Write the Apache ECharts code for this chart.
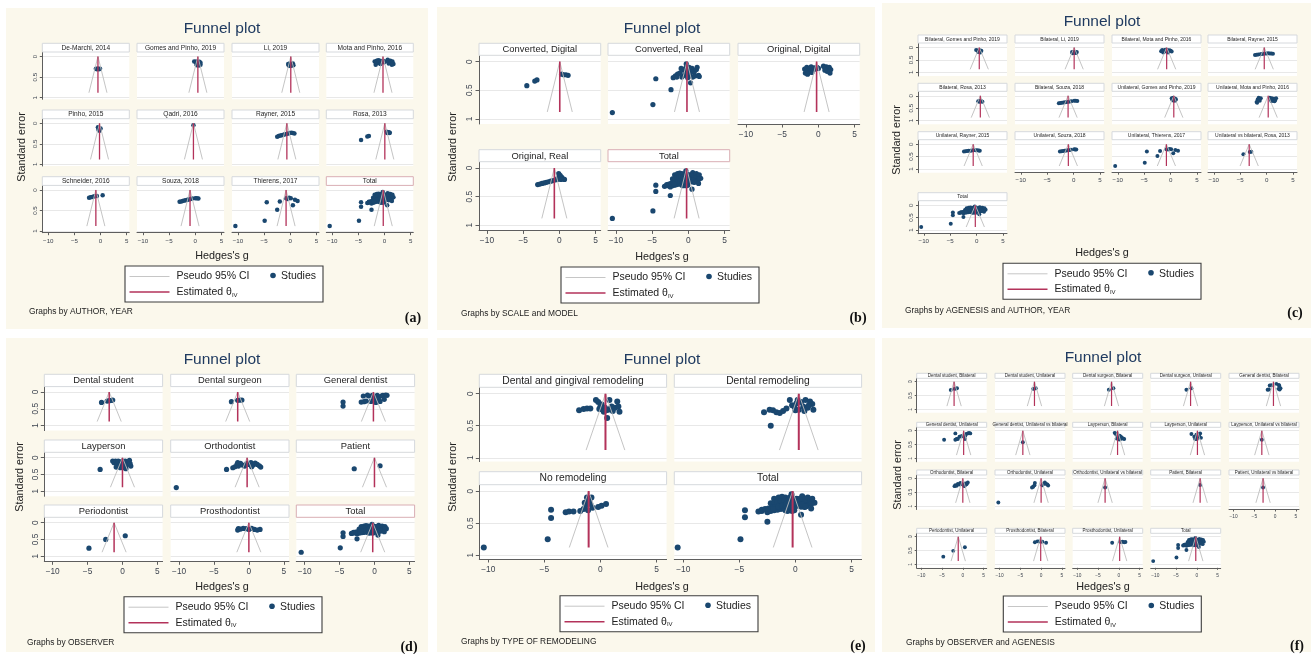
<!DOCTYPE html>
<html>
<head>
<meta charset="utf-8">
<script src="https://cdn.jsdelivr.net/npm/echarts@6/dist/echarts.min.js"></script>
<style>
  html, body { margin: 0; padding: 0; background: #ffffff; }
  #chart { width: 1311px; height: 654px; }
</style>
</head>
<body>
<div id="chart"></div>
<script>
// ---------- shared axis values ----------
const X_TICKS = [-10, -5, 0, 5];
const Y_TICKS = [0, 0.5, 1];
const SE_MAX = 0.88;          // largest standard error: bottom of every funnel
const Z_975 = 1.96;           // pseudo 95% CI half-width factor
const TOTAL_THETA = -0.25;

// ---------- studies by author (Hedges's g, standard error) ----------
const deMarchi2014 = [[-0.9,0.30],[-0.7,0.31],[-0.5,0.29],[-0.3,0.31],[-0.1,0.30]];
const gomesPinho2019 = [[-0.2,0.12],[0.1,0.13],[0.4,0.12],[0.8,0.13],[1.0,0.15],[0.2,0.17],[0.5,0.18],[0.8,0.19],[0.3,0.21],[0.7,0.22],[1.0,0.20]];
const li2019 = [[-0.4,0.18],[-0.1,0.17],[0.2,0.18],[0.5,0.17],[-0.3,0.22],[0.0,0.23],[0.3,0.22],[0.6,0.21]];
const motaPinho2016 = [[-1.9,0.12],[-1.7,0.20],[-1.5,0.10],[-1.3,0.16],[-1.1,0.13],[-0.9,0.10],[-0.7,0.15],[-0.5,0.12],[-0.3,0.10],[-0.1,0.14],[0.1,0.12],[0.6,0.08],[0.9,0.12],[1.1,0.10],[1.3,0.15],[1.5,0.12],[1.7,0.18],[1.4,0.20],[0.8,0.17],[-1.6,0.15],[-0.8,0.18],[-1.2,0.09]];
const pinho2015 = [[-0.5,0.10],[-0.3,0.12],[-0.1,0.14],[-0.4,0.16],[-0.2,0.18],[0.0,0.13]];
const qadri2016 = [[-0.35,0.05]];
const rayner2015 = [[-2.5,0.33],[-2.2,0.31],[-1.9,0.30],[-1.6,0.29],[-1.3,0.28],[-1.0,0.27],[-0.7,0.26],[-0.4,0.25],[-0.1,0.24],[0.2,0.23],[0.5,0.24],[0.8,0.25]];
const rosa2013 = [[-4.5,0.41],[-3.3,0.32],[-3.0,0.31],[0.4,0.21],[0.6,0.22],[0.8,0.22],[1.0,0.23],[0.5,0.24],[0.9,0.24]];
const schneider2016 = [[-2.2,0.19],[-1.9,0.18],[-1.6,0.17],[-1.3,0.16],[-1.0,0.15],[-0.7,0.15],[0.4,0.13]];
const souza2018 = [[-3.0,0.29],[-2.7,0.28],[-2.4,0.27],[-2.1,0.26],[-1.8,0.25],[-1.5,0.24],[-1.2,0.23],[-0.9,0.22],[-0.6,0.21],[0.0,0.20],[0.3,0.20],[0.6,0.21]];
const thierens2017 = [[-10.5,0.88],[-4.9,0.75],[-4.5,0.30],[-2.5,0.48],[-2.0,0.28],[-0.8,0.20],[-0.5,0.22],[-0.2,0.19],[0.1,0.20],[0.5,0.37],[0.9,0.24],[1.4,0.27]];

const authorLabels = ['De-Marchi, 2014','Gomes and Pinho, 2019','Li, 2019','Mota and Pinho, 2016','Pinho, 2015','Qadri, 2016','Rayner, 2015','Rosa, 2013','Schneider, 2016','Souza, 2018','Thierens, 2017'];
const authorThetas = [-0.5, 0.5, 0.1, -0.3, -0.2, -0.35, -0.65, 0.05, -0.9, -1.0, -0.8];
const authorGroups = [deMarchi2014, gomesPinho2019, li2019, motaPinho2016, pinho2015, qadri2016, rayner2015, rosa2013, schneider2016, souza2018, thierens2017];

// every study, pooled
const totalPoints = [].concat(...authorGroups);

// ---------- by scale and model ----------
const convertedDigital = [[-4.5,0.42],[-3.4,0.34],[-3.1,0.32],[0.3,0.22],[0.6,0.23],[0.9,0.23],[1.2,0.24]];
const convertedReal = [[-10.5,0.89],[-4.9,0.75],[-4.5,0.30],[-2.4,0.49],[-2.1,0.28],[-1.8,0.25],[-1.5,0.22],[-1.2,0.20],[-0.9,0.27],[-0.6,0.24],[-0.3,0.04],[-0.3,0.20],[0.0,0.15],[0.2,0.22],[0.5,0.12],[0.8,0.18],[1.1,0.14],[1.4,0.24],[0.3,0.37],[-0.7,0.15],[-0.1,0.28],[0.6,0.27],[0.9,0.25],[-1.0,0.12],[0.1,0.10],[1.5,0.26],[-0.4,0.12],[-1.6,0.27],[1.2,0.10],[0.4,0.18]];
const originalDigital = [[-1.9,0.13],[-1.8,0.20],[-1.6,0.10],[-1.4,0.16],[-1.2,0.12],[-1.0,0.09],[-0.8,0.14],[-0.6,0.11],[-0.4,0.13],[-0.2,0.10],[0.0,0.12],[-1.5,0.22],[-0.9,0.19],[0.7,0.08],[0.9,0.11],[1.1,0.09],[1.3,0.12],[1.5,0.10],[1.7,0.14],[1.6,0.20],[1.2,0.17],[0.9,0.15]];
const originalReal = [[-3.0,0.29],[-2.7,0.28],[-2.4,0.27],[-2.1,0.26],[-1.8,0.25],[-1.5,0.24],[-1.2,0.23],[-0.9,0.22],[-0.6,0.21],[-0.3,0.20],[-0.1,0.10],[0.1,0.13],[0.3,0.16],[0.5,0.19],[0.7,0.20],[-0.2,0.17],[0.2,0.20]];
const scaleModelLabels = ['Converted, Digital','Converted, Real','Original, Digital','Original, Real'];
const scaleModelThetas = [0.05, -0.2, -0.25, -0.7];
const scaleModelGroups = [convertedDigital, convertedReal, originalDigital, originalReal];

// ---------- by agenesis and author ----------
const bilGomesPinho2019 = [[-0.1,0.10],[0.2,0.12],[0.6,0.11],[0.9,0.13],[0.3,0.18],[0.7,0.20],[0.5,0.15]];
const bilLi2019 = [[-0.3,0.18],[0.0,0.17],[0.3,0.19],[0.6,0.18],[-0.2,0.23],[0.2,0.22],[0.5,0.22]];
const bilMotaPinho2016 = [[-1.8,0.15],[-1.6,0.10],[-1.4,0.20],[-1.2,0.12],[-1.0,0.09],[-0.8,0.16],[-0.6,0.10],[-0.4,0.14],[-0.2,0.11],[0.0,0.13],[0.2,0.16],[-1.3,0.17],[-0.5,0.20]];
const bilRayner2015 = [[-2.2,0.30],[-1.9,0.29],[-1.6,0.28],[-1.2,0.27],[-0.9,0.26],[-0.6,0.25],[-0.3,0.24],[0.0,0.24],[0.3,0.23],[0.6,0.24],[0.9,0.24],[1.2,0.25]];
const bilRosa2013 = [[0.3,0.22],[0.5,0.24],[0.7,0.23],[0.9,0.22],[1.1,0.24],[0.6,0.20]];
const bilSouza2018 = [[-2.8,0.30],[-2.5,0.29],[-2.2,0.28],[-1.9,0.27],[-1.6,0.26],[-1.3,0.25],[-1.0,0.24],[-0.7,0.23],[-0.4,0.22],[0.1,0.20],[0.4,0.20],[0.7,0.21]];
const uniGomesPinho2019 = [[0.2,0.10],[0.5,0.08],[0.8,0.11],[1.0,0.14],[0.3,0.16],[0.6,0.20],[0.9,0.19]];
const uniMotaPinho2016 = [[-1.9,0.25],[-1.7,0.15],[-1.5,0.08],[-1.3,0.20],[-1.1,0.10],[-1.8,0.28],[0.6,0.08],[0.8,0.15],[1.0,0.10],[1.2,0.20],[1.4,0.12],[1.6,0.18],[1.8,0.10],[1.5,0.22],[0.9,0.21]];
const uniRayner2015 = [[-2.4,0.30],[-2.1,0.29],[-1.8,0.28],[-1.5,0.27],[-1.2,0.27],[-0.9,0.26],[-0.6,0.25],[-0.2,0.25],[0.1,0.25],[0.4,0.26],[0.6,0.27]];
const uniSouza2018 = [[-2.6,0.30],[-2.3,0.29],[-2.0,0.28],[-1.7,0.27],[-1.4,0.26],[-1.1,0.25],[-0.8,0.24],[-0.5,0.23],[0.1,0.20],[0.3,0.21],[0.5,0.21]];
const uniVsBilRosa2013 = [[-4.4,0.41],[-3.2,0.32],[-2.9,0.31]];
const agenesisAuthorLabels = ['Bilateral, Gomes and Pinho, 2019','Bilateral, Li, 2019','Bilateral, Mota and Pinho, 2016','Bilateral, Rayner, 2015','Bilateral, Rosa, 2013','Bilateral, Souza, 2018','Unilateral, Gomes and Pinho, 2019','Unilateral, Mota and Pinho, 2016','Unilateral, Rayner, 2015','Unilateral, Souza, 2018','Unilateral, Thierens, 2017','Unilateral vs bilateral, Rosa, 2013'];
const agenesisAuthorThetas = [0.5, 0.1, -0.75, -0.45, 0.7, -1.05, 0.6, 0.3, -0.65, -1.0, -0.8, -3.3];
const agenesisAuthorGroups = [bilGomesPinho2019, bilLi2019, bilMotaPinho2016, bilRayner2015, bilRosa2013, bilSouza2018, uniGomesPinho2019, uniMotaPinho2016, uniRayner2015, uniSouza2018, thierens2017, uniVsBilRosa2013];

// ---------- by observer ----------
const dentalStudent = [[-3.0,0.31],[-2.2,0.27],[-1.9,0.26],[-1.6,0.25],[-1.4,0.24]];
const dentalSurgeon = [[-2.5,0.29],[-1.6,0.25],[-1.3,0.24],[-1.0,0.24]];
const generalDentist = [[-4.5,0.30],[-4.5,0.42],[-1.9,0.30],[-1.5,0.29],[-1.2,0.27],[-0.8,0.12],[-0.5,0.28],[-0.3,0.10],[0.0,0.13],[0.2,0.31],[0.4,0.10],[0.6,0.15],[0.8,0.28],[1.0,0.12],[1.2,0.10],[1.4,0.22],[1.6,0.09],[-1.0,0.09],[-0.1,0.20],[0.5,0.22],[1.8,0.10],[-1.6,0.12]];
const layperson = [[-3.2,0.35],[-1.4,0.10],[-1.2,0.15],[-1.0,0.10],[-0.8,0.20],[-0.6,0.10],[-0.4,0.25],[-0.2,0.15],[0.0,0.10],[0.2,0.30],[0.4,0.10],[0.6,0.22],[0.8,0.15],[1.0,0.08],[1.2,0.25],[-0.3,0.30],[0.3,0.20],[-0.9,0.28],[1.1,0.18],[0.5,0.33]];
const orthodontist = [[-10.4,0.89],[-3.2,0.35],[-2.3,0.30],[-2.0,0.27],[-1.7,0.20],[-1.5,0.25],[-1.2,0.17],[-0.9,0.22],[-0.6,0.25],[-0.3,0.17],[0.0,0.20],[0.3,0.15],[0.6,0.22],[0.9,0.16],[1.2,0.20],[1.5,0.24],[1.7,0.28],[-1.6,0.15],[0.4,0.27]];
const patient = [[-2.9,0.33],[0.8,0.24]];
const periodontist = [[-4.8,0.76],[-2.4,0.50],[0.4,0.39]];
const prosthodontist = [[-1.6,0.22],[-1.2,0.19],[-0.8,0.17],[-0.4,0.18],[0.0,0.20],[0.4,0.17],[0.8,0.20],[1.2,0.22],[1.6,0.20],[-1.5,0.18]];
const observerLabels = ['Dental student','Dental surgeon','General dentist','Layperson','Orthodontist','Patient','Periodontist','Prosthodontist'];
const observerThetas = [-1.9, -1.6, -0.15, 0.0, -0.25, 0.0, -1.2, 0.0];
const observerGroups = [dentalStudent, dentalSurgeon, generalDentist, layperson, orthodontist, patient, periodontist, prosthodontist];

// ---------- by type of remodeling ----------
const dentalGingivalRemodeling = [[-1.9,0.26],[-1.5,0.24],[-1.2,0.23],[-0.9,0.23],[-0.4,0.10],[-0.2,0.13],[0.0,0.20],[0.1,0.17],[0.2,0.25],[0.4,0.22],[0.5,0.26],[0.6,0.38],[0.7,0.25],[0.8,0.10],[0.9,0.24],[1.1,0.27],[1.3,0.22],[1.5,0.12],[1.6,0.20],[1.7,0.28],[-0.1,0.24],[0.3,0.28],[1.0,0.20]];
const dentalRemodeling = [[-2.8,0.29],[-2.2,0.50],[-2.3,0.25],[-2.0,0.26],[-1.7,0.29],[-1.4,0.30],[-1.1,0.27],[-0.8,0.23],[-0.5,0.10],[-0.3,0.18],[-0.1,0.20],[0.1,0.15],[0.3,0.25],[0.5,0.13],[0.7,0.20],[0.9,0.10],[1.1,0.22],[1.3,0.12],[1.5,0.16],[1.6,0.25],[0.2,0.10],[0.8,0.27],[1.2,0.18],[0.0,0.26]];
const noRemodeling = [[-10.4,0.88],[-4.7,0.75],[-4.4,0.29],[-4.4,0.42],[-3.1,0.33],[-2.8,0.32],[-2.4,0.32],[-1.8,0.31],[-1.5,0.28],[-1.3,0.22],[-1.2,0.10],[-1.0,0.15],[-0.8,0.10],[-0.7,0.26],[-1.1,0.30],[-0.9,0.20],[-0.2,0.25],[0.1,0.23],[0.5,0.20],[-1.4,0.18]];
const remodelingLabels = ['Dental and gingival remodeling','Dental remodeling','No remodeling'];
const remodelingThetas = [0.45, 0.3, -1.05];
const remodelingGroups = [dentalGingivalRemodeling, dentalRemodeling, noRemodeling];

// ---------- by observer and agenesis ----------
const dsBil = [[-2.9,0.30],[-2.0,0.26],[-1.7,0.25],[-1.4,0.24]];
const dsUni = [[-1.9,0.26],[-1.6,0.25],[-1.3,0.24]];
const dsurgBil = [[-2.4,0.29],[-1.3,0.24]];
const dsurgUni = [[-2.5,0.29],[-1.3,0.24]];
const gdBil = [[-1.8,0.29],[-1.5,0.28],[-1.3,0.14],[-0.9,0.13],[0.3,0.08],[0.9,0.12],[1.0,0.15],[0.8,0.26],[1.1,0.28],[1.3,0.24]];
const gdUni = [[-4.5,0.33],[-1.8,0.10],[-1.8,0.33],[-1.5,0.30],[-1.2,0.30],[-0.8,0.22],[-0.4,0.20],[0.0,0.18],[0.3,0.22],[0.5,0.30],[0.8,0.12],[1.2,0.10],[1.5,0.08],[1.8,0.10],[0.6,0.18]];
const gdUniVsBil = [[-4.4,0.42]];
const layBil = [[-1.0,0.08],[-0.8,0.10],[-0.6,0.15],[-0.4,0.12],[-0.2,0.20],[0.0,0.25],[0.2,0.18],[0.4,0.30],[0.7,0.25],[1.0,0.28],[1.3,0.30],[-0.5,0.28],[0.5,0.22],[0.1,0.32]];
const layUni = [[-1.3,0.12],[-0.6,0.22],[-0.4,0.30],[-0.2,0.25],[0.0,0.30],[0.2,0.22],[0.4,0.13],[0.6,0.20],[0.8,0.10],[1.0,0.26],[-0.1,0.15]];
const layUniVsBil = [[-3.2,0.33]];
const orthoBil = [[-2.0,0.28],[-1.8,0.25],[-1.5,0.27],[-1.2,0.20],[-0.9,0.22],[-0.6,0.17],[-0.3,0.20],[0.0,0.22],[0.3,0.25],[0.6,0.18],[0.9,0.21],[1.2,0.15],[0.4,0.28]];
const orthoUni = [[-10.3,0.87],[-2.2,0.33],[-1.9,0.30],[-1.6,0.25],[-1.5,0.17],[0.5,0.20],[0.9,0.15],[1.2,0.20],[1.5,0.22],[1.7,0.26],[0.3,0.25]];
const orthoUniVsBil = [[-3.3,0.33]];
const patientBil = [[0.8,0.24]];
const patientUniVsBil = [[-2.9,0.33]];
const perioUni = [[-4.7,0.72],[-2.3,0.51],[0.5,0.38]];
const prosthoBil = [[-1.5,0.20],[-0.9,0.17],[-0.5,0.17],[-0.1,0.18],[0.3,0.18],[1.2,0.22]];
const prosthoUni = [[-1.6,0.22],[0.3,0.18],[0.6,0.19],[0.9,0.18],[1.3,0.20],[1.6,0.19]];
const observerAgenesisLabels = ['Dental student, Bilateral','Dental student, Unilateral','Dental surgeon, Bilateral','Dental surgeon, Unilateral','General dentist, Bilateral','General dentist, Unilateral','General dentist, Unilateral vs bilateral','Layperson, Bilateral','Layperson, Unilateral','Layperson, Unilateral vs bilateral','Orthodontist, Bilateral','Orthodontist, Unilateral','Orthodontist, Unilateral vs bilateral','Patient, Bilateral','Patient, Unilateral vs bilateral','Periodontist, Unilateral','Prosthodontist, Bilateral','Prosthodontist, Unilateral'];
const observerAgenesisThetas = [-2.1, -1.6, -1.75, -1.5, -0.4, 0.2, -4.4, -0.3, 0.15, -3.2, 0.0, 0.0, -3.3, 0.8, -2.9, -1.1, -0.1, 0.2];
const observerAgenesisGroups = [dsBil, dsUni, dsurgBil, dsurgUni, gdBil, gdUni, gdUniVsBil, layBil, layUni, layUniVsBil, orthoBil, orthoUni, orthoUniVsBil, patientBil, patientUniVsBil, perioUni, prosthoBil, prosthoUni];

// ---------- styling ----------
const FONT = '"Liberation Sans", Arial, sans-serif';
const CREAM = '#fbf8ec';
const NAVY = '#1a476f';
const RED = '#b3325a';
const FUNNEL = '#bdbdbd';
const GRIDLINE = '#e8e8e8';
const AXIS = '#5e5e5e';
const TITLE = '#1f3a60';
const TICKTXT = '#3d4450';

// ---------- panel geometry ----------
const panels = [
  { tag: '(a)', note: 'Graphs by AUTHOR, YEAR',
    labels: authorLabels, thetas: authorThetas, groups: authorGroups,
    bg: [6, 8, 422, 321], title: [222, 29], ncols: 4,
    cols: [42.3, 137, 232, 326.3], colW: 87,
    rowTops: [43.3, 110, 176.7], headH: 8.7, plotH: 47.3,
    yRange: [-0.11, 1.04], xRange: [-11.15, 5.5],
    headFont: 6.6, tickFont: 6.2, tickLen: 2.5, dot: 4.5, redW: 1.3,
    yTitle: [22, 147], xTitle: [222, 256], legend: [125, 266], noteXY: [29, 312], tagXY: [413, 318], totalPink: true },
  { tag: '(b)', note: 'Graphs by SCALE and MODEL',
    labels: scaleModelLabels, thetas: scaleModelThetas, groups: scaleModelGroups,
    bg: [437, 7, 438, 323], title: [662, 29], ncols: 3,
    cols: [479, 608, 738], colW: 121.7,
    rowTops: [43.3, 149.7], headH: 12, plotH: 68.7,
    yRange: [-0.11, 1.09], xRange: [-11.1, 5.7],
    headFont: 9.4, tickFont: 8.4, tickLen: 3.5, dot: 5.2, redW: 1.6,
    yTitle: [453, 147], xTitle: [662, 257], legend: [561, 267], noteXY: [461, 314], tagXY: [858, 318], totalPink: true },
  { tag: '(c)', note: 'Graphs by AGENESIS and AUTHOR, YEAR',
    labels: agenesisAuthorLabels, thetas: agenesisAuthorThetas, groups: agenesisAuthorGroups,
    bg: [882, 3, 429, 325], title: [1102, 22], ncols: 4,
    cols: [918, 1015, 1112, 1208], colW: 89,
    rowTops: [35, 83.3, 131.7, 192.7], headH: 8, plotH: 33,
    yRange: [-0.18, 1.15], xRange: [-11.1, 5.75],
    headFont: 5, tickFont: 6.2, tickLen: 2, dot: 4, redW: 1.2,
    yTitle: [897, 140], xTitle: [1102, 253], legend: [1003, 263.3], noteXY: [905, 311], tagXY: [1295, 313], totalPink: false },
  { tag: '(d)', note: 'Graphs by OBSERVER',
    labels: observerLabels, thetas: observerThetas, groups: observerGroups,
    bg: [6, 338, 422, 314], title: [222, 360], ncols: 3,
    cols: [44.3, 170.7, 296.3], colW: 118.3,
    rowTops: [374.3, 440, 505], headH: 12.3, plotH: 44,
    yRange: [-0.16, 1.15], xRange: [-11.2, 5.75],
    headFont: 9.4, tickFont: 8.3, tickLen: 3.5, dot: 5.2, redW: 1.5,
    yTitle: [20, 477], xTitle: [222, 587], legend: [124, 596.7], noteXY: [27, 643], tagXY: [409, 647], totalPink: true },
  { tag: '(e)', note: 'Graphs by TYPE OF REMODELING',
    labels: remodelingLabels, thetas: remodelingThetas, groups: remodelingGroups,
    bg: [437, 338, 438, 314], title: [662, 360], ncols: 2,
    cols: [479.3, 674.3], colW: 187.3,
    rowTops: [374.3, 471.7], headH: 13, plotH: 74.3,
    yRange: [-0.1, 1.06], xRange: [-10.8, 5.9],
    headFont: 10.3, tickFont: 8.4, tickLen: 3.5, dot: 6, redW: 2,
    yTitle: [453, 477], xTitle: [662, 587], legend: [560, 595.7], noteXY: [461, 642], tagXY: [858, 646], totalPink: false },
  { tag: '(f)', note: 'Graphs by OBSERVER and AGENESIS',
    labels: observerAgenesisLabels, thetas: observerAgenesisThetas, groups: observerAgenesisGroups,
    bg: [882, 338, 429, 314], title: [1103, 358], ncols: 5,
    cols: [916.7, 995, 1072.7, 1150.7, 1229], colW: 70,
    rowTops: [373.3, 422.3, 470, 528.3], headH: 5, plotH: 34.5,
    yRange: [-0.12, 1.12], xRange: [-11.1, 5.75],
    headFont: 4.5, tickFont: 4.8, tickLen: 2, dot: 3.9, redW: 1.2,
    yTitle: [898, 475], xTitle: [1103, 587], legend: [1003.3, 596], noteXY: [906, 643], tagXY: [1297, 646], totalPink: false }
];

// ---------- build option ----------
const grids = [], xAxes = [], yAxes = [], series = [], graphics = [];

function text(x, y, str, size, o) {
  o = o || {};
  const el = {
    type: 'text', x: x, y: y, silent: true, z: 50,
    style: {
      text: str, fontSize: size, fontFamily: o.family || FONT, fill: o.fill || '#222',
      align: o.align || 'center', verticalAlign: o.va || 'middle', fontWeight: o.weight || 'normal'
    }
  };
  if (o.rotation) el.rotation = o.rotation;
  if (o.rich) el.style.rich = o.rich;
  return el;
}

const minusFmt = v => (v < 0 ? '\u2212' + Math.abs(v) : String(v));

function addCell(P, i, n, label, theta, pts, isTotal) {
  const r = Math.floor(i / P.ncols), c = i % P.ncols;
  const hasX = i + P.ncols >= n;
  const hasY = c === 0;
  const left = P.cols[c], headTop = P.rowTops[r], top = headTop + P.headH;
  const g = grids.length;

  grids.push({ left: left, top: top, width: P.colW, height: P.plotH, show: true,
    backgroundColor: '#ffffff', borderWidth: 0, containLabel: false, outerBoundsMode: 'none' });

  xAxes.push({ gridIndex: g, type: 'value', min: P.xRange[0], max: P.xRange[1],
    axisLine: { show: hasX, onZero: false, lineStyle: { color: AXIS, width: 1 } },
    axisTick: { show: hasX, customValues: X_TICKS, length: P.tickLen, lineStyle: { color: AXIS } },
    axisLabel: { show: hasX, customValues: X_TICKS, formatter: minusFmt, fontSize: P.tickFont,
      color: TICKTXT, fontFamily: FONT, margin: P.tickLen + 3 },
    splitLine: { show: false } });

  yAxes.push({ gridIndex: g, type: 'value', inverse: true, min: P.yRange[0], max: P.yRange[1],
    axisLine: { show: hasY, onZero: false, lineStyle: { color: AXIS, width: 1 } },
    axisTick: { show: hasY, customValues: Y_TICKS, length: P.tickLen, lineStyle: { color: AXIS } },
    axisLabel: { show: hasY, customValues: Y_TICKS, rotate: 90, fontSize: P.tickFont,
      color: TICKTXT, fontFamily: FONT, margin: P.tickLen + 1.5 },
    splitLine: { show: true, lineStyle: { color: GRIDLINE, width: 1 } } });

  series.push({ type: 'scatter', xAxisIndex: g, yAxisIndex: g, data: pts, symbol: 'circle',
    symbolSize: P.dot, itemStyle: { color: NAVY, opacity: 1 }, silent: true, z: 2, animation: false });

  const half = Z_975 * SE_MAX;
  series.push({ type: 'line', xAxisIndex: g, yAxisIndex: g, silent: true, z: 3, animation: false,
    data: [[theta - half, SE_MAX], [theta, 0], [theta + half, SE_MAX]],
    symbol: 'none', lineStyle: { color: FUNNEL, width: 0.9 } });

  series.push({ type: 'line', xAxisIndex: g, yAxisIndex: g, silent: true, z: 4, animation: false,
    data: [[theta, 0], [theta, SE_MAX]],
    symbol: 'none', lineStyle: { color: RED, width: P.redW } });

  graphics.push({ type: 'rect', silent: true, z: 40,
    shape: { x: left, y: headTop, width: P.colW, height: P.headH },
    style: { fill: '#ffffff', stroke: (isTotal && P.totalPink) ? '#d9aeb4' : '#d6d9dd', lineWidth: 1 } });
  graphics.push(text(left + P.colW / 2, headTop + P.headH / 2 + 0.3, label, P.headFont, { fill: '#1e1e1e' }));
}

function addLegend(x, y) {
  const w = 198, h = 36;
  graphics.push({ type: 'rect', silent: true, z: 40, shape: { x: x, y: y, width: w, height: h },
    style: { fill: '#ffffff', stroke: '#3c3c3c', lineWidth: 1.1 } });
  const r1 = y + 10.5, r2 = y + 26;
  graphics.push({ type: 'line', silent: true, z: 45, shape: { x1: x + 4.5, y1: r1, x2: x + 44.5, y2: r1 },
    style: { stroke: '#c6c6c6', lineWidth: 1 } });
  graphics.push(text(x + 51.5, r1, 'Pseudo 95% CI', 10.5, { align: 'left' }));
  graphics.push({ type: 'circle', silent: true, z: 45, shape: { cx: x + 148, cy: r1 - 1, r: 2.8 },
    style: { fill: NAVY } });
  graphics.push(text(x + 156, r1, 'Studies', 10.5, { align: 'left' }));
  graphics.push({ type: 'line', silent: true, z: 45, shape: { x1: x + 4.5, y1: r2, x2: x + 44.5, y2: r2 },
    style: { stroke: RED, lineWidth: 1.5 } });
  graphics.push(text(x + 51.5, r2, 'Estimated \u03b8{iv|IV}', 10.5, { align: 'left',
    rich: { iv: { fontSize: 6, fontFamily: FONT, fill: '#222', padding: [6, 0, 0, 0] } } }));
}

panels.forEach(P => {
  graphics.push({ type: 'rect', silent: true, z: -100,
    shape: { x: P.bg[0], y: P.bg[1], width: P.bg[2], height: P.bg[3] }, style: { fill: CREAM } });
  graphics.push(text(P.title[0], P.title[1], 'Funnel plot', 15.5, { fill: TITLE }));

  const n = P.labels.length + 1;
  P.labels.forEach((lab, i) => addCell(P, i, n, lab, P.thetas[i], P.groups[i], false));
  addCell(P, n - 1, n, 'Total', TOTAL_THETA, totalPoints, true);

  graphics.push(text(P.yTitle[0], P.yTitle[1], 'Standard error', 10.8, { rotation: Math.PI / 2 }));
  graphics.push(text(P.xTitle[0], P.xTitle[1], "Hedges's g", 10.8));
  addLegend(P.legend[0], P.legend[1]);
  graphics.push(text(P.noteXY[0], P.noteXY[1], P.note, 8.4, { align: 'left' }));
  graphics.push(text(P.tagXY[0], P.tagXY[1], P.tag, 14, { family: '"Liberation Serif", "Times New Roman", serif', weight: 'bold', fill: '#111' }));
});

const chart = echarts.init(document.getElementById('chart'), null, { renderer: 'canvas' });
chart.setOption({
  animation: false,
  backgroundColor: '#ffffff',
  textStyle: { fontFamily: FONT },
  grid: grids,
  xAxis: xAxes,
  yAxis: yAxes,
  series: series,
  graphic: { elements: graphics }
});
</script>
</body>
</html>
